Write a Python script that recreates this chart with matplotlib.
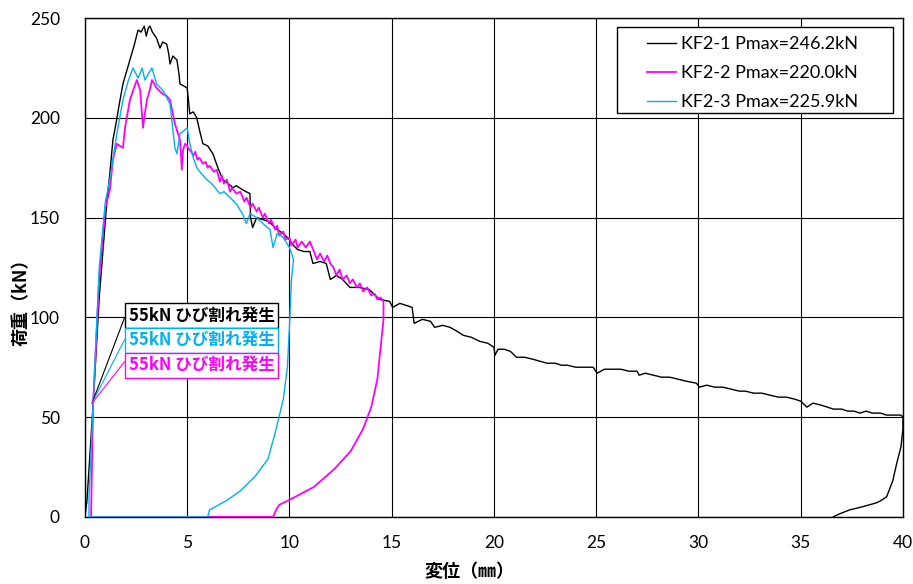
import matplotlib
matplotlib.use("Agg")
import matplotlib.pyplot as plt
from matplotlib.patches import Rectangle

plt.rcParams['font.family'] = ['Lato', 'Noto Sans CJK JP', 'DejaVu Sans']

# KF2-1 (黒)
x1 = [0, 0.1, 0.4, 0.7, 1.08, 1.2, 1.37, 1.5, 1.7, 1.86, 2.0, 2.2, 2.4, 2.6, 2.75, 2.9, 3.0, 3.1,
      3.18, 3.3, 3.5, 3.67, 3.8, 4.0, 4.1, 4.16, 4.3, 4.5, 4.6, 4.65, 5.0, 5.13, 5.3, 5.47, 5.6, 5.77,
      6.0, 6.26, 6.5, 6.75, 7.0, 7.24, 7.4, 7.7, 8.07, 8.1, 8.2, 8.4, 8.7, 9.0, 9.2, 9.4, 9.7, 10.0,
      10.2, 10.4, 10.7, 11.0, 11.15, 11.5, 11.8, 12.0, 12.3, 12.6, 12.96, 13.4, 13.9, 14.4, 14.9,
      15.05, 15.4, 16.0, 16.1, 16.5, 16.9, 17.1, 17.5, 17.85, 18.2, 18.5, 18.9, 19.3, 19.7, 20.0,
      20.05, 20.2, 20.5, 20.8, 21.1, 21.5, 21.9, 22.25, 22.6, 23.0, 23.3, 23.6, 24.0, 24.4, 24.85,
      25.05, 25.4, 25.8, 26.2, 26.6, 27.0, 27.1, 27.4, 27.8, 28.2, 28.6, 29.0, 29.4, 29.9, 30.05,
      30.4, 30.8, 31.2, 31.6, 32.0, 32.3, 32.7, 33.1, 33.5, 33.9, 34.3, 34.7, 35.0, 35.3, 35.6,
      36.0, 36.3, 36.6, 37.0, 37.3, 37.6, 37.9, 38.2, 38.5, 38.9, 39.2, 39.5, 39.9, 40.0, 40.0,
      39.9, 39.7, 39.5, 39.2, 38.9, 38.7, 38.0, 37.4, 36.9, 36.6]
y1 = [0, 8, 56, 110, 159, 170, 189, 196, 208, 217, 222, 229, 236, 244, 243, 246, 241, 245,
      246, 243, 240, 235, 238, 237, 232, 227, 231, 229, 222, 217, 215, 202, 203, 200, 194, 187,
      186, 182, 175, 169, 167, 165, 166, 164, 162, 150, 145, 150, 149, 148, 146, 144, 142, 139,
      136, 134, 133, 133, 127, 128, 127, 119, 121, 119, 115, 115, 114, 109, 108,
      105, 107, 105, 97, 99, 98, 95, 96, 95, 93, 91, 90, 88, 87, 85,
      81, 84, 84, 83, 80, 80, 79, 78, 77, 77, 76, 76, 75, 75, 75,
      72, 74, 74, 74, 73, 73, 71, 72, 71, 70, 70, 69, 68, 67, 65,
      66, 65, 65, 64, 63, 63, 62, 62, 61, 60, 60, 59, 58, 55, 57,
      56, 55, 54, 54, 53, 53, 52, 53, 52, 52, 51, 51, 51, 50, 44,
      35, 27, 18, 10, 8, 7, 5, 3.5, 1.5, 0]

# KF2-2 (マゼンタ)
x2 = [0.5, 0.3, 0.4, 0.7, 1.0, 1.22, 1.37, 1.56, 1.7, 1.86, 1.96, 2.2, 2.4, 2.54, 2.7, 2.84, 2.9,
      3.03, 3.15, 3.28, 3.5, 3.8, 4.0, 4.16, 4.4, 4.65, 4.74, 4.8, 4.9, 5.0, 5.1, 5.2, 5.3, 5.4,
      5.5, 5.6, 5.77, 5.9, 6.0, 6.1, 6.3, 6.45, 6.6, 6.7, 6.8, 6.94, 7.1, 7.2, 7.4, 7.6, 7.8, 7.9,
      8.1, 8.2, 8.4, 8.5, 8.7, 8.8, 9.0, 9.1, 9.3, 9.4, 9.5, 9.7, 9.8, 10.0, 10.1, 10.3, 10.4,
      10.6, 10.8, 11.0, 11.2, 11.35, 11.5, 11.7, 11.85, 12.0, 12.15, 12.3, 12.45, 12.6, 12.8,
      12.96, 13.1, 13.3, 13.45, 13.6, 13.8, 14.0, 14.15, 14.3, 14.45, 14.6, 14.6, 14.55, 14.3,
      14.0, 13.6, 13.0, 12.2, 11.2, 10.0, 9.5, 9.35, 9.2, 0.5]
y2 = [0, 0, 56, 120, 155, 164, 179, 187, 186, 185, 195, 209, 215, 219, 214, 195, 200,
      209, 213, 219, 215, 212, 211, 209, 197, 189, 174, 184, 187, 186, 184, 183, 181, 183,
      179, 180, 177, 178, 175, 176, 173, 174, 168, 171, 167, 169, 163, 165, 162, 163, 158, 160,
      155, 157, 153, 155, 150, 152, 147, 149, 144, 146, 141, 143, 139, 140, 136, 139, 135,
      138, 135, 138, 133, 129, 132, 128, 131, 127, 125, 121, 124, 119, 121,
      117, 119, 115, 117, 113, 115, 111, 112, 109, 110, 108, 99, 94, 69,
      55, 44, 33, 24, 15, 8.5, 6, 3.5, 0, 0]

# KF2-3 (シアン)
x3 = [0.2, 0.2, 0.4, 0.7, 1.0, 1.22, 1.56, 1.86, 2.1, 2.35, 2.6, 2.8, 2.93, 3.1, 3.28, 3.5, 3.8,
      4.16, 4.4, 4.5, 4.65, 5.0, 5.13, 5.3, 5.47, 5.7, 5.96, 6.2, 6.6, 6.8, 7.1, 7.4, 7.7, 7.9,
      8.07, 8.4, 8.7, 9.05, 9.2, 9.4, 9.7, 10.0, 10.2, 10.1, 10.0, 9.9, 9.7, 9.3, 8.95, 8.3, 7.6,
      6.9, 6.36, 6.1, 6.0, 0.2]
y3 = [0, 10, 56, 125, 158, 169, 192, 209, 218, 225, 220, 225, 219, 222, 225, 217, 214,
      207, 185, 182, 192, 195, 187, 180, 175, 172, 169, 167, 162, 163, 160, 157, 152, 147,
      152, 150, 147, 144, 135, 142, 140, 135, 129, 119, 95, 75, 59, 42, 29, 20, 13,
      8, 5, 3.5, 0, 0]

labels = ['KF2-1 Pmax=246.2kN', 'KF2-2 Pmax=220.0kN', 'KF2-3 Pmax=225.9kN']
colors = ['black', '#FF00FF', '#00B0F0']
note = '55kN ひび割れ発生'
note_colors = ['black', '#00B0F0', '#FF00FF']

fig = plt.figure(figsize=(9.13, 5.84), dpi=100)
ax = fig.add_axes([0.093, 0.115, 0.896, 0.854])

ax.plot(x1, y1, color=colors[0], lw=1.0, label=labels[0], zorder=3)
ax.plot(x2, y2, color=colors[1], lw=1.3, label=labels[1], zorder=4)
ax.plot(x3, y3, color=colors[2], lw=1.0, label=labels[2], zorder=5)

ax.set_xlim(0, 40)
ax.set_ylim(0, 250)
ax.set_xticks(range(0, 41, 5))
ax.set_yticks(range(0, 251, 50))
ax.grid(True, color='black', lw=0.8)
ax.tick_params(length=0, labelsize=12.5)
ax.tick_params(axis='x', pad=13)
ax.tick_params(axis='y', pad=18)
for s in ax.spines.values():
    s.set_color('black')
    s.set_linewidth(1.0)

ax.set_xlabel('変位（㎜）', fontsize=13, fontweight='bold', family=['Noto Sans CJK JP'])
ax.set_ylabel('荷重（kN）', fontsize=13, fontweight='bold', family=['Noto Sans CJK JP'])
ax.xaxis.set_label_coords(0.47, -0.09)
ax.yaxis.set_label_coords(-0.066, 0.44)

# 凡例（枠は別に描く）
ax.add_patch(Rectangle((0.650, 0.810), 0.338, 0.172, transform=ax.transAxes,
                       fc='white', ec='black', lw=1.0, zorder=6))
leg = ax.legend(loc='upper left', fontsize=13, frameon=False,
                handlelength=1.6, handletextpad=0.3, borderpad=0, borderaxespad=0,
                labelspacing=0.72, bbox_to_anchor=(0.687, 0.964))
leg.set_zorder(7)

# ひび割れ注記
for i, c in enumerate(note_colors):
    ax.annotate(note, xy=(0.35, 57), xytext=(2.15, 101 - i * 12.5),
                color=c, fontsize=12, fontweight='bold', family=['Noto Sans CJK JP'],
                va='center', ha='left',
                bbox=dict(boxstyle='square,pad=0.22', fc='white', ec=c, lw=1.0),
                arrowprops=dict(arrowstyle='-', color=c, lw=0.8, relpos=(0, 1),
                                shrinkA=0, shrinkB=0),
                zorder=6)

fig.savefig('out.png', dpi=100)
